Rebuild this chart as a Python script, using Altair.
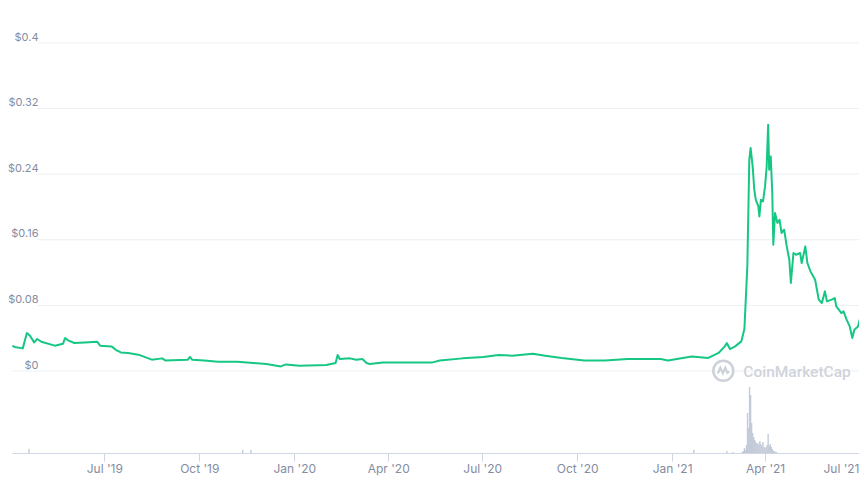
import altair as alt
import pandas as pd

# ---- price series ----
price_dates = [
    "2019-04-03T00:00", "2019-04-05T00:00", "2019-04-13T00:00", "2019-04-17T00:00", "2019-04-20T00:00",
    "2019-04-24T00:00", "2019-04-27T00:00", "2019-05-01T00:00", "2019-05-14T00:00", "2019-05-22T00:00",
    "2019-05-24T00:00", "2019-05-27T00:00", "2019-06-02T00:00", "2019-06-12T00:00", "2019-06-24T00:00",
    "2019-06-27T00:00", "2019-07-08T00:00", "2019-07-13T00:00", "2019-07-17T00:00", "2019-07-24T00:00",
    "2019-08-03T00:00", "2019-08-16T00:00", "2019-08-26T00:00", "2019-08-29T00:00", "2019-09-20T00:00",
    "2019-09-22T00:00", "2019-09-24T00:00", "2019-10-06T00:00", "2019-10-19T00:00", "2019-11-07T00:00",
    "2019-11-22T00:00", "2019-12-05T00:00", "2019-12-19T00:00", "2019-12-24T00:00", "2020-01-06T00:00",
    "2020-02-01T00:00", "2020-02-10T00:00", "2020-02-12T00:00", "2020-02-14T00:00", "2020-02-24T00:00",
    "2020-03-01T00:00", "2020-03-07T00:00", "2020-03-11T00:00", "2020-03-14T00:00", "2020-03-27T00:00",
    "2020-04-22T00:00", "2020-05-14T00:00", "2020-05-21T00:00", "2020-06-12T00:00", "2020-07-02T00:00",
    "2020-07-17T00:00", "2020-07-30T00:00", "2020-08-19T00:00", "2020-08-31T00:00", "2020-09-16T00:00",
    "2020-10-08T00:00", "2020-10-28T00:00", "2020-11-19T00:00", "2020-12-21T00:00", "2020-12-28T00:00",
    "2021-01-20T00:00", "2021-02-05T00:00", "2021-02-15T00:00", "2021-02-21T00:00", "2021-02-23T00:00",
    "2021-02-26T00:00", "2021-03-03T00:00", "2021-03-09T00:00", "2021-03-12T00:00", "2021-03-14T20:00",
    "2021-03-16T18:00", "2021-03-18T00:00", "2021-03-20T00:00", "2021-03-21T14:00", "2021-03-23T00:00",
    "2021-03-25T12:00", "2021-03-26T12:00", "2021-03-28T00:00", "2021-03-30T00:00", "2021-04-01T00:00",
    "2021-04-02T14:00", "2021-04-04T00:00", "2021-04-05T00:00", "2021-04-06T12:00", "2021-04-08T00:00",
    "2021-04-09T00:00", "2021-04-10T16:00", "2021-04-13T00:00", "2021-04-15T00:00", "2021-04-17T00:00",
    "2021-04-19T12:00", "2021-04-22T00:00", "2021-04-24T12:00", "2021-04-26T00:00", "2021-04-28T12:00",
    "2021-05-01T00:00", "2021-05-05T00:00", "2021-05-06T12:00", "2021-05-10T00:00", "2021-05-12T00:00",
    "2021-05-15T00:00", "2021-05-19T12:00", "2021-05-23T00:00", "2021-05-26T00:00", "2021-05-29T00:00",
    "2021-05-31T00:00", "2021-06-04T12:00", "2021-06-07T12:00", "2021-06-09T00:00", "2021-06-14T00:00",
    "2021-06-16T00:00", "2021-06-19T00:00", "2021-06-22T00:00", "2021-06-24T12:00", "2021-06-26T12:00",
    "2021-06-30T00:00", "2021-07-03T18:00",
]
price_values = [
    0.0310, 0.0293, 0.0276, 0.0463, 0.0430,
    0.0349, 0.0390, 0.0357, 0.0309, 0.0333,
    0.0402, 0.0373, 0.0341, 0.0349, 0.0357,
    0.0309, 0.0300, 0.0251, 0.0227, 0.0220,
    0.0199, 0.0138, 0.0154, 0.0129, 0.0138,
    0.0171, 0.0138, 0.0129, 0.0113, 0.0113,
    0.0098, 0.0085, 0.0056, 0.0080, 0.0065,
    0.0073, 0.0098, 0.0195, 0.0146, 0.0154,
    0.0138, 0.0146, 0.0098, 0.0085, 0.0105,
    0.0105, 0.0105, 0.0129, 0.0154, 0.0171,
    0.0195, 0.0187, 0.0211, 0.0187, 0.0159,
    0.0129, 0.0129, 0.0146, 0.0146, 0.0129,
    0.0178, 0.0159, 0.0220, 0.0300, 0.0341,
    0.0268, 0.0300, 0.0361, 0.0512, 0.1276,
    0.2577, 0.2720, 0.2495, 0.2211, 0.2089,
    0.2007, 0.1885, 0.2089, 0.2068, 0.2251,
    0.2495, 0.3004, 0.2455, 0.2617, 0.2171,
    0.1540, 0.1927, 0.1805, 0.1845, 0.1683,
    0.1723, 0.1520, 0.1357, 0.1073, 0.1439,
    0.1418, 0.1439, 0.1317, 0.1520, 0.1317,
    0.1215, 0.1113, 0.0870, 0.0829, 0.0971,
    0.0849, 0.0870, 0.0890, 0.0788, 0.0707,
    0.0727, 0.0626, 0.0544, 0.0402, 0.0504,
    0.0544, 0.0727,
]

# ---- trading volume (millions USD) ----
volume_dates = [
    "2019-04-19T00:00", "2019-11-12T00:00", "2019-11-20T00:00", "2021-01-22T00:00", "2021-02-23T00:00",
    "2021-03-01T00:00", "2021-03-10T00:00", "2021-03-11T00:00", "2021-03-12T00:00", "2021-03-13T00:00",
    "2021-03-14T00:00", "2021-03-15T00:00", "2021-03-16T00:00", "2021-03-17T00:00", "2021-03-18T00:00",
    "2021-03-19T00:00", "2021-03-20T00:00", "2021-03-21T00:00", "2021-03-22T00:00", "2021-03-23T00:00",
    "2021-03-24T00:00", "2021-03-25T00:00", "2021-03-26T00:00", "2021-03-27T00:00", "2021-03-28T00:00",
    "2021-03-29T00:00", "2021-03-30T00:00", "2021-03-31T00:00", "2021-04-01T00:00", "2021-04-02T00:00",
    "2021-04-03T00:00", "2021-04-04T00:00", "2021-04-05T00:00", "2021-04-06T00:00", "2021-04-07T00:00",
    "2021-04-08T00:00", "2021-04-09T00:00", "2021-04-10T00:00", "2021-04-11T00:00", "2021-04-12T00:00",
]
volume_values = [
    40, 30, 30, 30, 20,
    10, 10, 20, 50, 30,
    80, 400, 250, 660, 580,
    300, 200, 160, 130, 110,
    90, 100, 80, 120, 90,
    70, 110, 60, 50, 60,
    80, 190, 70, 90, 60,
    40, 20, 20, 10, 10,
]

y_tick_values = [0, 0.08, 0.16, 0.24, 0.32, 0.4]
y_grid_upper = [0.08, 0.16, 0.24, 0.32, 0.4]
y_grid_zero = [0]
watermark_text = ["CoinMarketCap"]

price_df = pd.DataFrame({"date": price_dates, "price": price_values})
vol_df = pd.DataFrame({"date": volume_dates, "volume": volume_values})
grid_up_df = pd.DataFrame({"v": y_grid_upper})
grid_zero_df = pd.DataFrame({"v": y_grid_zero})
wm_df = pd.DataFrame({"t": watermark_text})

LABEL_COLOR = "#858ca2"
GRID_COLOR = "#eceff3"
AXIS_COLOR = "#cfd6e4"
GREEN = "#16c784"

Y_MIN, Y_MAX = -0.1, 0.4
VOL_MAX = 4100  # volume value that would reach the top of the plot

x_domain = [alt.DateTime(year=2019, month=4, date=2, hours=14),
            alt.DateTime(year=2021, month=7, date=1)]
x_scale = alt.Scale(domain=x_domain, nice=False, padding=0)
y_scale = alt.Scale(domain=[Y_MIN, Y_MAX], nice=False, zero=False, padding=0)

x_ticks = [alt.DateTime(year=y, month=m, date=1) for (y, m) in
           [(2019, 7), (2019, 10), (2020, 1), (2020, 4), (2020, 7),
            (2020, 10), (2021, 1), (2021, 4), (2021, 7)]]

x_axis = alt.Axis(values=x_ticks, format="%b '%y", labelFont="Inter",
                  labelFontSize=12, labelColor=LABEL_COLOR, domainColor=AXIS_COLOR,
                  tickColor=AXIS_COLOR, tickSize=8, labelPadding=2, grid=False,
                  labelFlush=True, title="")
y_axis = alt.Axis(orient="left", values=y_tick_values, format="$.2~f",
                  labelFont="Inter", labelFontSize=11, labelColor=LABEL_COLOR,
                  labelAlign="right", labelBaseline="alphabetic", labelOffset=-3,
                  labelPadding=-26, domain=False, ticks=False, grid=False, title="")

# volume drawn in the lower band, mapped onto the shared scale
volume = alt.Chart(vol_df).transform_calculate(
    vol_y=f"{Y_MIN} + datum.volume / {VOL_MAX} * {Y_MAX - Y_MIN}"
).mark_bar(size=1.4, color="#c3cad8").encode(
    x=alt.X("date:T", scale=x_scale, axis=x_axis, title=""),
    y=alt.Y("vol_y:Q", scale=y_scale, axis=y_axis, title=""),
    y2=alt.datum(Y_MIN),
)

grid_up = alt.Chart(grid_up_df).mark_rule(color=GRID_COLOR, strokeWidth=1).encode(
    y=alt.Y("v:Q", scale=y_scale, axis=y_axis, title=""),
    x=alt.value(25.5),
    x2=alt.value(847),
)
grid_zero = alt.Chart(grid_zero_df).mark_rule(color=GRID_COLOR, strokeWidth=1).encode(
    y=alt.Y("v:Q", scale=y_scale, axis=y_axis, title=""),
    x=alt.value(0),
    x2=alt.value(847),
)

line = alt.Chart(price_df).mark_line(color=GREEN, strokeWidth=2, strokeJoin="round").encode(
    x=alt.X("date:T", scale=x_scale, axis=x_axis, title=""),
    y=alt.Y("price:Q", scale=y_scale, axis=y_axis, title=""),
)

wm_circle = alt.Chart(wm_df).mark_point(shape="circle", filled=False, size=400,
                                        strokeWidth=2.5, color="#cdd1d9", opacity=1).encode(
    x=alt.value(711.3), y=alt.value(327.7))
wm_m = alt.Chart(wm_df).mark_point(
    shape="M -0.55 0.3 L -0.3 -0.3 L -0.05 0.25 L 0.2 -0.3 L 0.4 0.2 L 0.6 0.1",
    filled=False, size=400, strokeWidth=2.2, color="#cdd1d9", opacity=1).encode(
    x=alt.value(711.3), y=alt.value(327.7))
wm_text = alt.Chart(wm_df).mark_text(align="left", baseline="middle", font="Roboto",
                                     fontSize=15.5, fontWeight=500, color="#cfd3db").encode(
    x=alt.value(731.3), y=alt.value(328.7), text="t:N")

chart = alt.layer(
    grid_zero, grid_up, volume, wm_circle, wm_m, wm_text, line,
).properties(
    width=847, height=410,
    autosize=alt.AutoSizeParams(type="none"),
    padding={"left": 4, "top": 35, "right": 0, "bottom": 25},
).configure_view(strokeWidth=0)

chart.save("out.html", embed_options={"renderer": "svg", "actions": False})
